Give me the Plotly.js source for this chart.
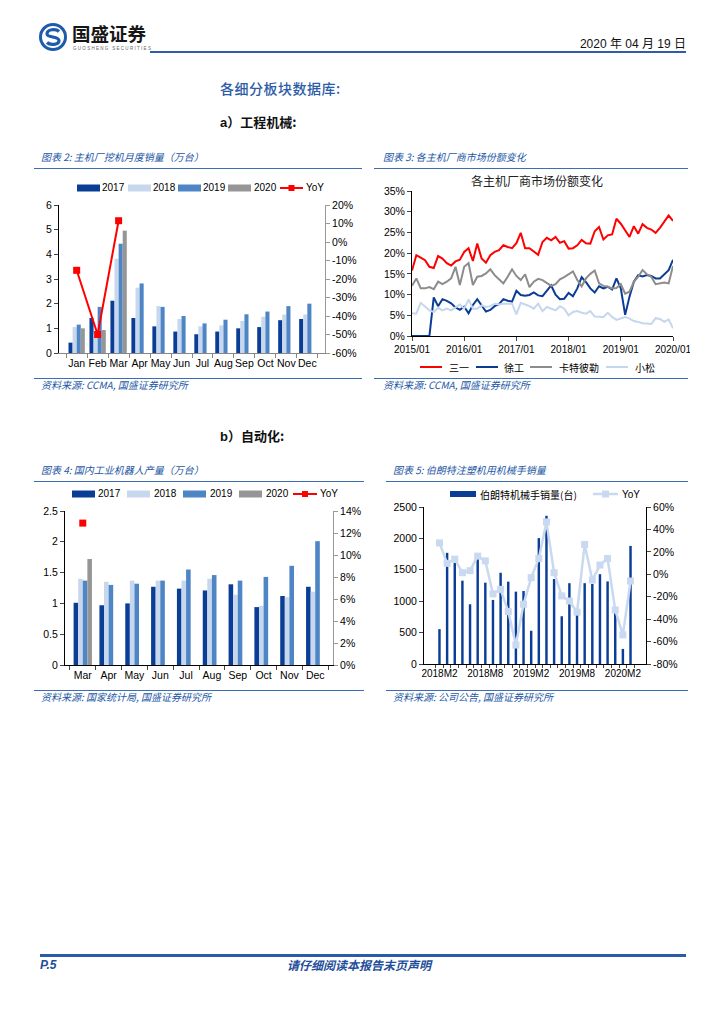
<!DOCTYPE html>
<html><head><meta charset="utf-8">
<script src="https://cdn.plot.ly/plotly-3.0.1.min.js"></script>
<style>
body{margin:0;background:#fff;}
#page{position:relative;width:724px;height:1024px;background:#fff;overflow:hidden;font-family:"Liberation Sans","Noto Sans CJK SC",sans-serif;}
.abs{position:absolute;white-space:nowrap;line-height:1;}
.cap{font-family:"Noto Sans CJK SC",sans-serif;font-size:10px;color:#2457A5;font-style:italic;}
.hl{position:absolute;height:1px;background:#3C6DB4;}
.chart{position:absolute;}
</style></head>
<body><div id="page">
<!-- header -->
<svg class="abs" style="left:38px;top:22px" width="30" height="30" viewBox="0 0 30 30">
<circle cx="15" cy="15" r="12.5" fill="none" stroke="#1E5BAA" stroke-width="3"/>
<path d="M21 9.5 C 18 6.5, 9 7, 9 12 C 9 16, 21 14, 21 18.5 C 21 23, 12 23.5, 9 20.5" fill="none" stroke="#1E5BAA" stroke-width="3.2"/>
</svg>
<div class="abs" style="left:72px;top:24px;font-family:'Noto Sans CJK SC';font-weight:700;font-size:18.5px;color:#161616;">国盛证券</div>
<div class="abs" style="left:73px;top:47px;font-size:4.5px;letter-spacing:1.3px;color:#666;">GUOSHENG SECURITIES</div>
<div class="abs" style="right:38px;top:37px;font-size:12px;color:#111;">2020 <span style="font-family:'Noto Sans CJK SC'">年</span> 04 <span style="font-family:'Noto Sans CJK SC'">月</span> 19 <span style="font-family:'Noto Sans CJK SC'">日</span></div>
<div class="abs" style="left:150px;top:51px;width:536px;height:2px;background:#2E5EA8;"></div>

<div class="abs" style="left:220px;top:81px;font-family:'Noto Sans CJK SC';font-size:14px;font-weight:500;color:#2C5CA8;letter-spacing:0.5px;">各细分板块数据库:</div>
<div class="abs" style="left:220px;top:115px;font-family:'Noto Sans CJK SC';font-size:13px;font-weight:700;color:#111;"><span style="font-family:'Liberation Sans';">a</span>）工程机械:</div>

<div class="abs cap" style="left:41px;top:152px;">图表 2: 主机厂挖机月度销量（万台）</div>
<div class="hl" style="left:34px;top:168px;width:328px;"></div>
<div class="abs cap" style="left:383px;top:152px;">图表 3: 各主机厂商市场份额变化</div>
<div class="hl" style="left:374px;top:168px;width:314px;"></div>
<div id="c2" class="chart" style="left:30px;top:175px;width:340px;height:205px;"></div>
<div id="c3" class="chart" style="left:375px;top:172px;width:315px;height:205px;"></div>
<div class="hl" style="left:34px;top:378px;width:328px;"></div>
<div class="hl" style="left:374px;top:378px;width:314px;"></div>
<div class="abs cap" style="left:41px;top:380px;">资料来源: CCMA, 国盛证券研究所</div>
<div class="abs cap" style="left:383px;top:380px;">资料来源: CCMA, 国盛证券研究所</div>

<div class="abs" style="left:220px;top:429px;font-family:'Noto Sans CJK SC';font-size:13px;font-weight:700;color:#111;"><span style="font-family:'Liberation Sans';">b</span>）自动化:</div>

<div class="abs cap" style="left:41px;top:465px;">图表 4: 国内工业机器人产量（万台）</div>
<div class="hl" style="left:34px;top:481px;width:330px;"></div>
<div class="abs cap" style="left:393px;top:465px;">图表 5: 伯朗特注塑机用机械手销量</div>
<div class="hl" style="left:386px;top:481px;width:302px;"></div>
<div id="c4" class="chart" style="left:30px;top:476px;width:340px;height:214px;"></div>
<div id="c5" class="chart" style="left:375px;top:476px;width:315px;height:214px;"></div>
<div class="hl" style="left:34px;top:690px;width:330px;"></div>
<div class="hl" style="left:386px;top:690px;width:302px;"></div>
<div class="abs cap" style="left:41px;top:692px;">资料来源: 国家统计局, 国盛证券研究所</div>
<div class="abs cap" style="left:393px;top:692px;">资料来源: 公司公告, 国盛证券研究所</div>

<!-- footer -->
<div class="abs" style="left:40px;top:954px;width:646px;height:3px;background:#2A5BA8;"></div>
<div class="abs" style="left:40px;top:959px;font-size:12px;font-weight:700;font-style:italic;color:#1F4E9A;">P.5</div>
<div class="abs" style="left:287px;top:959px;font-family:'Noto Sans CJK SC';font-size:12px;font-weight:700;font-style:italic;color:#1F4E9A;">请仔细阅读本报告末页声明</div>
</div>
<script>
// ---------- data ----------
const months2 = ['Jan','Feb','Mar','Apr','May','Jun','Jul','Aug','Sep','Oct','Nov','Dec'];
const exc2017 = [0.42,1.42,2.12,1.42,1.08,0.87,0.76,0.87,1.00,1.05,1.33,1.38];
const exc2018 = [1.05,0.79,3.82,2.65,1.90,1.38,1.08,1.12,1.30,1.47,1.56,1.56];
const exc2019 = [1.15,1.87,4.43,2.82,1.87,1.50,1.20,1.35,1.57,1.68,1.90,2.00];
const exc2020 = [1.00,0.93,4.96,null,null,null,null,null,null,null,null,null];
const excYoY  = [-15.3,-50.0,11.5,null,null,null,null,null,null,null,null,null];
const excYoYTicks = [-60,-50,-40,-30,-20,-10,0,10,20];

const shareMonths = [];
for (let y = 2015; y <= 2020; y++) for (let m = 1; m <= 12; m++) { if (y === 2020 && m > 1) break; shareMonths.push(y + '/' + String(m).padStart(2,'0')); }
const shareYearTicks = ['2015/01','2016/01','2017/01','2018/01','2019/01','2020/01'];
const sany = [15.8,19.5,18.9,18.3,16.7,16.4,19.3,18.7,17.6,17.0,18.0,18.4,20.3,21.2,18.1,22.3,18.7,17.7,19.5,20.3,20.7,21.9,21.5,21.2,22.4,24.9,21.2,21.2,20.4,19.6,22.7,23.7,23.1,23.9,22.5,22.9,21.1,21.2,21.9,23.2,22.4,22.3,25.3,26.3,23.3,24.3,24.5,28.3,27.1,25.5,23.9,26.5,24.7,27.0,26.1,25.7,24.9,26.1,27.5,29.1,27.8];
const xcmg = [0,0,0,0,0,9.3,7.2,8.9,8.5,7.9,6.9,6.3,7.1,5.5,7.5,8.9,7.5,5.9,6.3,7.2,7.7,8.9,8.5,8.3,10.9,9.9,9.7,9.9,10.5,9.8,9.6,11.0,12.2,10.0,8.9,9.0,10.4,9.6,11.5,14.2,13.0,11.5,10.5,12.0,11.5,11.9,11.2,13.9,11.5,5.1,9.5,13.1,14.7,14.4,14.7,14.5,13.9,13.9,14.9,15.9,18.4];
const cat = [12.1,13.9,11.5,11.5,11.8,11.3,13.1,12.5,13.1,13.9,16.7,12.3,16.7,17.6,12.3,14.3,14.5,15.1,16.1,14.7,13.7,12.7,14.3,16.1,14.5,13.5,14.9,11.8,13.1,13.8,13.5,12.7,12.1,12.5,13.7,14.2,14.8,15.6,13.5,12.0,13.9,15.0,15.8,12.7,12.1,11.9,11.5,11.6,12.5,10.2,10.7,13.1,14.3,15.9,14.9,14.3,12.5,12.7,12.9,12.7,16.9];
const komatsu = [5.5,5.4,8.0,7.2,6.2,5.8,6.8,6.2,6.6,6.2,7.0,7.6,6.6,8.8,6.6,6.6,7.4,7.0,7.2,7.8,7.6,7.8,7.8,7.8,5.2,8.0,7.6,7.2,6.6,7.8,6.0,7.0,6.6,6.2,7.2,6.6,5.0,5.8,6.0,5.6,5.4,6.0,4.7,4.7,4.6,5.6,4.6,3.9,4.2,4.6,4.2,3.6,3.4,3.1,3.0,2.9,4.3,4.1,3.4,4.0,1.9];
const shareNames = ['三一','徐工','卡特彼勒','小松'];

const months4 = ['Mar','Apr','May','Jun','Jul','Aug','Sep','Oct','Nov','Dec'];
const rob2017 = [1.01,0.97,1.00,1.27,1.24,1.21,1.31,0.94,1.12,1.27];
const rob2018 = [1.40,1.35,1.37,1.37,1.37,1.40,1.14,0.96,1.10,1.19];
const rob2019 = [1.37,1.30,1.32,1.37,1.55,1.46,1.37,1.43,1.61,2.01];
const rob2020 = [1.72,null,null,null,null,null,null,null,null,null];
const robYoY  = [12.9,null,null,null,null,null,null,null,null,null];

const months5 = [];
for (let y = 2018; y <= 2020; y++) for (let m = 1; m <= 12; m++) { if ((y === 2018 && m < 2) || (y === 2020 && m > 3)) continue; months5.push(y + 'M' + m); }
const months5Labels = ['2018M2','2018M8','2019M2','2019M8','2020M2'];
const borunteSales = [555,1770,1612,1327,951,1681,1295,1020,1453,1311,1152,1163,529,2005,2360,1353,760,1287,790,1287,1275,1430,1315,810,240,1880];
const borunteYoY = [28,9.7,13.5,1.4,3.2,16.2,12,-17.5,-13.4,-33.2,-63.1,-26.7,-3,14.1,46.7,1.4,-19.3,-23.8,-33.8,26.6,-5.1,8.2,14.1,-31.8,-54,-6];
const borunteYoYTicks = [-80,-60,-40,-20,0,20,40,60];
const borunteNames = ['伯朗特机械手销量(台)','YoY'];
const yearNames = ['2017','2018','2019','2020','YoY'];

// ---------- styles ----------
const C17='#0A3D96', C18='#C6D7EE', C19='#4E85C5', C20='#969696', CRED='#FF0000';
const CJK = '"Noto Sans CJK SC", sans-serif';
const LAT = '"Liberation Sans", Arial, sans-serif';
const cfg = {staticPlot:true, displayModeBar:false};
const pct = v => v + '%';

function bar(name, x, y, color) { return {type:'bar', name, x, y, marker:{color, line:{width:0}}}; }

// legend drawn with the library's shapes/annotations; g = plot geometry in page px
function makeLegend(g, items) {
  const px = x => (x - g.l) / (g.r - g.l);
  const py = y => (g.b - y) / (g.b - g.t);
  const shapes = [], annotations = [];
  items.forEach(it => {
    if (it.kind === 'bar') {
      shapes.push({type:'rect', xref:'paper', yref:'paper', x0:px(it.x0), x1:px(it.x1), y0:py(g.ly + it.h/2), y1:py(g.ly - it.h/2), fillcolor:it.color, line:{width:0}});
    } else {
      shapes.push({type:'line', xref:'paper', yref:'paper', x0:px(it.x0), x1:px(it.x1), y0:py(g.ly), y1:py(g.ly), line:{color:it.color, width:it.w || 2}});
      if (it.marker) {
        const c = (it.x0 + it.x1) / 2, s = it.marker / 2;
        shapes.push({type:'rect', xref:'paper', yref:'paper', x0:px(c - s), x1:px(c + s), y0:py(g.ly + s), y1:py(g.ly - s), fillcolor:it.color, line:{width:0}});
      }
    }
    annotations.push({xref:'paper', yref:'paper', x:px(it.tx), y:py(g.ly), xanchor:'left', yanchor:'middle', text:it.label, showarrow:false, borderpad:0, font:{family:it.font || LAT, size:10, color:'#000'}});
  });
  return {shapes, annotations};
}

// ---------- chart 2 ----------
const g2 = {l:59, r:325, t:205, b:353, ly:188};
const lg2 = makeLegend(g2, [
  {kind:'bar', color:C17, x0:77, x1:100, h:7, tx:101, label:yearNames[0]},
  {kind:'bar', color:C18, x0:128, x1:151, h:7, tx:152, label:yearNames[1]},
  {kind:'bar', color:C19, x0:178, x1:201, h:7, tx:202, label:yearNames[2]},
  {kind:'bar', color:C20, x0:228, x1:251, h:7, tx:253, label:yearNames[3]},
  {kind:'line', color:CRED, x0:280, x1:303, marker:6, tx:305, label:yearNames[4]}
]);
Plotly.newPlot('c2', [
  bar(yearNames[0], months2, exc2017, C17),
  bar(yearNames[1], months2, exc2018, C18),
  bar(yearNames[2], months2, exc2019, C19),
  bar(yearNames[3], months2, exc2020, C20),
  {type:'scatter', mode:'lines+markers', name:yearNames[4], x:months2, y:excYoY, yaxis:'y2',
   line:{color:CRED, width:2}, marker:{symbol:'square', size:7, color:CRED}}
], {
  width:340, height:205, margin:{l:29, r:45, t:30, b:27},
  paper_bgcolor:'rgba(0,0,0,0)', plot_bgcolor:'rgba(0,0,0,0)',
  font:{family:LAT, size:10.5, color:'#000'},
  barmode:'group', bargap:0.22, bargroupgap:0, showlegend:false,
  shapes:lg2.shapes, annotations:lg2.annotations,
  xaxis:{type:'category', tickangle:0, showline:true, linecolor:'#888', ticks:'outside', ticklen:4, tickcolor:'#888', tickson:'boundaries', showgrid:false},
  yaxis:{range:[0,6], dtick:1, showline:true, linecolor:'#000', ticks:'outside', ticklen:4, showgrid:false, zeroline:false},
  yaxis2:{range:[-60,20], overlaying:'y', side:'right', tickvals:excYoYTicks, ticktext:excYoYTicks.map(pct), showline:true, linecolor:'#999', tickcolor:'#999', ticks:'outside', ticklen:4, showgrid:false, zeroline:false}
}, cfg);

// ---------- chart 3 ----------
const SC = ['#FF0000','#0A3C96','#8C8C8C','#C5D6EE'];
const g3 = {l:412, r:673, t:191, b:336, ly:367};
const lg3 = makeLegend(g3, [
  {kind:'line', color:SC[0], x0:420, x1:442, tx:448, label:shareNames[0], font:CJK},
  {kind:'line', color:SC[1], x0:476, x1:498, tx:503, label:shareNames[1], font:CJK},
  {kind:'line', color:SC[2], x0:530, x1:552, tx:558, label:shareNames[2], font:CJK},
  {kind:'line', color:SC[3], x0:606, x1:628, tx:634, label:shareNames[3], font:CJK}
]);
function line(name, y, color) { return {type:'scatter', mode:'lines', name, x:shareMonths, y, line:{color, width:2}}; }
Plotly.newPlot('c3', [
  line(shareNames[0], sany, SC[0]),
  line(shareNames[1], xcmg, SC[1]),
  line(shareNames[2], cat, SC[2]),
  line(shareNames[3], komatsu, SC[3])
], {
  width:315, height:205, margin:{l:37, r:17, t:19, b:41},
  paper_bgcolor:'rgba(0,0,0,0)', plot_bgcolor:'rgba(0,0,0,0)',
  font:{family:LAT, size:10.5, color:'#000'},
  title:{text:'各主机厂商市场份额变化', font:{family:CJK, size:12, color:'#222'}, x:0.514, xanchor:'center', y:0.951, yanchor:'middle', yref:'container'},
  showlegend:false, shapes:lg3.shapes, annotations:lg3.annotations,
  xaxis:{type:'category', range:[0,60], tickangle:0, tickvals:shareYearTicks, ticktext:shareYearTicks, showline:true, linecolor:'#000', ticks:'outside', ticklen:4, showgrid:false, tickfont:{size:10}},
  yaxis:{range:[0,35], dtick:5, ticksuffix:'%', showline:true, linecolor:'#000', ticks:'outside', ticklen:4, showgrid:false, zeroline:false}
}, cfg);

// ---------- chart 4 ----------
const g4 = {l:65, r:333, t:511, b:665, ly:494};
const lg4 = makeLegend(g4, [
  {kind:'bar', color:C17, x0:72, x1:95, h:7, tx:97, label:yearNames[0]},
  {kind:'bar', color:C18, x0:127, x1:150, h:7, tx:153, label:yearNames[1]},
  {kind:'bar', color:C19, x0:183, x1:206, h:7, tx:209, label:yearNames[2]},
  {kind:'bar', color:C20, x0:239, x1:262, h:7, tx:265, label:yearNames[3]},
  {kind:'line', color:CRED, x0:293, x1:317, marker:6, tx:319, label:yearNames[4]}
]);
Plotly.newPlot('c4', [
  bar(yearNames[0], months4, rob2017, C17),
  bar(yearNames[1], months4, rob2018, C18),
  bar(yearNames[2], months4, rob2019, C19),
  bar(yearNames[3], months4, rob2020, C20),
  {type:'scatter', mode:'lines+markers', name:yearNames[4], x:months4, y:robYoY, yaxis:'y2',
   line:{color:CRED, width:2}, marker:{symbol:'square', size:7, color:CRED}}
], {
  width:340, height:214, margin:{l:35, r:37, t:35, b:25},
  paper_bgcolor:'rgba(0,0,0,0)', plot_bgcolor:'rgba(0,0,0,0)',
  font:{family:LAT, size:10.5, color:'#000'},
  barmode:'group', bargap:0.29, bargroupgap:0, showlegend:false,
  shapes:lg4.shapes, annotations:lg4.annotations,
  xaxis:{type:'category', tickangle:0, showline:true, linecolor:'#000', ticks:'outside', ticklen:4, tickson:'boundaries', showgrid:false},
  yaxis:{range:[0,2.5], dtick:0.5, showline:true, linecolor:'#000', ticks:'outside', ticklen:4, showgrid:false, zeroline:false},
  yaxis2:{range:[0,14], dtick:2, ticksuffix:'%', overlaying:'y', side:'right', showline:true, linecolor:'#999', tickcolor:'#999', ticks:'outside', ticklen:4, showgrid:false, zeroline:false}
}, cfg);

// ---------- chart 5 ----------
const g5 = {l:424, r:646, t:507, b:664, ly:494};
const lg5 = makeLegend(g5, [
  {kind:'bar', color:'#0B3D97', x0:450, x1:476, h:6, tx:479, label:borunteNames[0], font:CJK},
  {kind:'line', color:'#C9D9EF', x0:593, x1:618, w:2.5, marker:7, tx:621, label:borunteNames[1]}
]);
Plotly.newPlot('c5', [
  {type:'bar', name:borunteNames[0], x:months5, y:borunteSales, marker:{color:'#0B3D97'}},
  {type:'scatter', mode:'lines+markers', name:borunteNames[1], x:months5, y:borunteYoY, yaxis:'y2',
   line:{color:'#C9D9EF', width:2.5}, marker:{symbol:'square', size:7, color:'#C9D9EF'}}
], {
  width:315, height:214, margin:{l:49, r:44, t:31, b:26},
  paper_bgcolor:'rgba(0,0,0,0)', plot_bgcolor:'rgba(0,0,0,0)',
  font:{family:LAT, size:10.5, color:'#000'},
  bargap:0.68, showlegend:false,
  shapes:lg5.shapes, annotations:lg5.annotations,
  xaxis:{type:'category', tickangle:0, tickvals:months5, ticktext:months5.map(m => months5Labels.includes(m) ? m : ''), showline:true, linecolor:'#000', ticks:'outside', ticklen:3, tickson:'boundaries', showgrid:false, tickfont:{size:10}},
  yaxis:{range:[0,2500], dtick:500, showline:true, linecolor:'#000', ticks:'outside', ticklen:4, showgrid:false, zeroline:false},
  yaxis2:{range:[-80,60], overlaying:'y', side:'right', tickvals:borunteYoYTicks, ticktext:borunteYoYTicks.map(pct), showline:true, linecolor:'#000', ticks:'outside', ticklen:4, showgrid:false, zeroline:false}
}, cfg);
</script>
</body></html>
